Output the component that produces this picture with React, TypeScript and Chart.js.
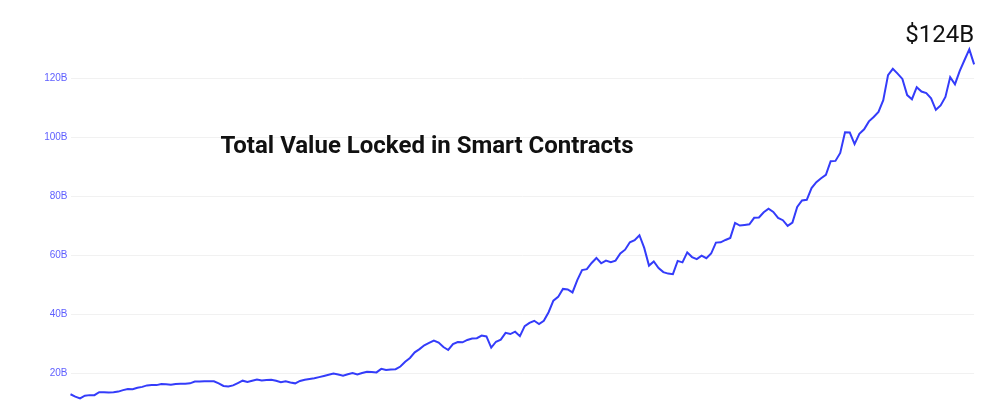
import React, { useEffect, useRef } from "react";
import { Chart, registerables } from "chart.js";

Chart.register(...registerables);

// Total value locked, billions of USD, one point per week
const TVL_BILLIONS: number[] = [
  12.9, 12.1, 11.5, 12.4, 12.6, 12.6, 13.6, 13.6, 13.5, 13.6,
  13.8, 14.3, 14.7, 14.6, 15.1, 15.4, 15.9, 16.0, 16.0, 16.4,
  16.3, 16.1, 16.4, 16.5, 16.5, 16.6, 17.2, 17.2, 17.3, 17.3,
  17.3, 16.6, 15.7, 15.5, 15.9, 16.7, 17.5, 17.1, 17.5, 17.9,
  17.6, 17.7, 17.8, 17.5, 17.0, 17.3, 16.9, 16.6, 17.4, 17.8,
  18.1, 18.3, 18.7, 19.1, 19.5, 19.9, 19.6, 19.2, 19.7, 20.1,
  19.6, 20.1, 20.5, 20.4, 20.3, 21.5, 21.1, 21.3, 21.4, 22.3,
  23.9, 25.2, 27.1, 28.2, 29.5, 30.3, 31.1, 30.4, 28.9, 27.9,
  29.9, 30.6, 30.5, 31.3, 31.8, 31.9, 32.8, 32.5, 28.7, 30.7,
  31.4, 33.7, 33.3, 34.1, 32.6, 36.0, 37.1, 37.8, 36.7, 37.8,
  40.7, 44.6, 45.9, 48.6, 48.4, 47.4, 51.6, 55.0, 55.3, 57.4,
  59.1, 57.3, 58.2, 57.7, 58.2, 60.6, 61.9, 64.4, 65.1, 66.8,
  62.5, 56.5, 57.9, 55.7, 54.3, 53.8, 53.6, 58.1, 57.6, 61.0,
  59.4, 58.7, 59.9, 59.0, 60.6, 64.3, 64.4, 65.2, 65.9, 71.0,
  70.1, 70.3, 70.5, 72.7, 72.8, 74.6, 75.8, 74.7, 72.7, 71.9,
  70.0, 71.1, 76.4, 78.6, 78.8, 82.8, 84.8, 86.1, 87.3, 91.9,
  92.0, 94.7, 101.7, 101.6, 97.7, 101.2, 102.7, 105.4, 106.9, 108.6,
  112.6, 121.1, 123.2, 121.6, 119.8, 114.3, 112.9, 117.0, 115.5, 115.0,
  113.2, 109.3, 110.8, 113.7, 120.4, 118.0, 122.5, 126.2, 129.8, 124.7,
];

const WEEK_LABELS: string[] = TVL_BILLIONS.map((_, i) => `Week ${i + 1}`);

const Y_TICKS: number[] = [20, 40, 60, 80, 100, 120];

const TITLE_TEXT = "Total Value Locked in Smart Contracts";
const LATEST_LABEL = "$124B";

const textPlugin = {
  id: "overlayText",
  afterDraw(chart: any) {
    const { ctx, chartArea } = chart;
    ctx.save();
    ctx.fillStyle = "#111111";
    ctx.textBaseline = "alphabetic";
    ctx.font = "bold 24px Roboto";
    ctx.textAlign = "center";
    ctx.fillText(TITLE_TEXT, 427, 153);
    ctx.font = "24px Roboto";
    ctx.textAlign = "right";
    ctx.fillText(LATEST_LABEL, chartArea.right, 42);
    ctx.restore();
  },
};

export default function App() {
  const canvasRef = useRef<HTMLCanvasElement | null>(null);

  useEffect(() => {
    const canvas = canvasRef.current;
    if (!canvas) return;
    const chart = new Chart(canvas, {
      type: "line",
      data: {
        labels: WEEK_LABELS,
        datasets: [
          {
            label: "TVL",
            data: TVL_BILLIONS,
            borderColor: "rgb(52,60,250)",
            backgroundColor: "rgb(52,60,250)",
            borderWidth: 2,
            pointRadius: 0,
            tension: 0,
            fill: false,
          },
        ],
      },
      options: {
        animation: false,
        responsive: false,
        devicePixelRatio: 1,
        layout: { padding: { left: 0, right: 25.9, top: 30, bottom: 10 } },
        plugins: {
          legend: { display: false },
          tooltip: { enabled: false },
          title: { display: false },
        },
        scales: {
          x: { display: false },
          y: {
            min: 10.95,
            max: 136.37,
            border: { display: false },
            grid: { color: "#f1f1f1", lineWidth: 1, drawTicks: false },
            afterBuildTicks: (scale: any) => {
              scale.ticks = Y_TICKS.map((v) => ({ value: v }));
            },
            afterFit: (scale: any) => {
              scale.width = 70.5;
            },
            ticks: {
              padding: 3,
              color: "rgb(95,95,255)",
              font: { size: 10, family: "'Liberation Sans', Arial, sans-serif" },
              callback: (v: any) => `${v}B`,
            },
          },
        },
      },
      plugins: [textPlugin],
    });
    return () => chart.destroy();
  }, []);

  return (
    <div
      style={{
        position: "fixed",
        left: 0,
        top: 0,
        width: 1000,
        height: 410,
        overflow: "hidden",
        background: "#ffffff",
      }}
    >
      <canvas ref={canvasRef} width={1000} height={410} style={{ width: 1000, height: 410, display: "block" }} />
    </div>
  );
}
